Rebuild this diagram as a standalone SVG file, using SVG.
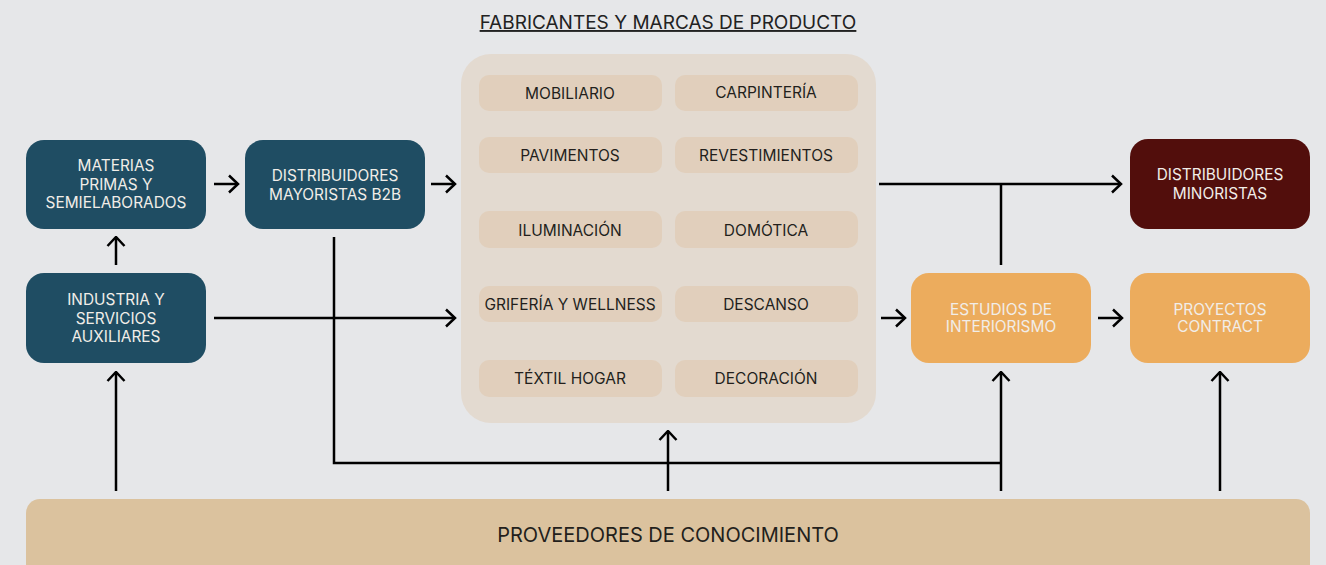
<svg xmlns="http://www.w3.org/2000/svg" width="1326" height="565" viewBox="0 0 1326 565">
<defs>
<style>
text{font-family:Inter,"Liberation Sans",sans-serif;text-anchor:middle}
.lt{fill:#f1ede8;font-size:15.4px}
.dk{fill:#231f1c;font-size:15.5px}
.cell{fill:#e1cfbc}
.blue{fill:#1f4d63}
.orange{fill:#ecac5d}
.conn path{fill:none;stroke:#000;stroke-width:2.5}
</style>
<marker id="ah" viewBox="0 0 12 20" refX="10.5" refY="10" markerWidth="12" markerHeight="20" markerUnits="userSpaceOnUse" orient="auto">
<path d="M1.5,1.5 L10.5,10 L1.5,18.5" fill="none" stroke="#000" stroke-width="2.5"/>
</marker>
</defs>
<rect width="1326" height="565" fill="#e6e7e9"/>
<g id="title">
<text x="668" y="29" style="font-size:19px;fill:#222;text-decoration:underline">FABRICANTES Y MARCAS DE PRODUCTO</text>
</g>
<g id="fabricantes">
<rect x="461" y="54" width="415" height="369" rx="30" fill="#e3dad0"/>
<rect class="cell" x="479" y="75" width="183" height="36" rx="10"/><text class="dk" x="570" y="99">MOBILIARIO</text>
<rect class="cell" x="675" y="75" width="183" height="36" rx="10"/><text class="dk" x="766" y="98">CARPINTERÍA</text>
<rect class="cell" x="479" y="137" width="183" height="36" rx="10"/><text class="dk" x="570" y="161">PAVIMENTOS</text>
<rect class="cell" x="675" y="137" width="183" height="36" rx="10"/><text class="dk" x="766" y="161">REVESTIMIENTOS</text>
<rect class="cell" x="479" y="211" width="183" height="37" rx="10"/><text class="dk" x="570" y="236">ILUMINACIÓN</text>
<rect class="cell" x="675" y="211" width="183" height="37" rx="10"/><text class="dk" x="766" y="236">DOMÓTICA</text>
<rect class="cell" x="479" y="286" width="183" height="36" rx="10"/><text class="dk" x="570" y="310">GRIFERÍA Y WELLNESS</text>
<rect class="cell" x="675" y="286" width="183" height="36" rx="10"/><text class="dk" x="766" y="310">DESCANSO</text>
<rect class="cell" x="479" y="360" width="183" height="37" rx="10"/><text class="dk" x="570" y="384">TÉXTIL HOGAR</text>
<rect class="cell" x="675" y="360" width="183" height="37" rx="10"/><text class="dk" x="766" y="384">DECORACIÓN</text>
</g>
<g id="materias">
<rect class="blue" x="26" y="140" width="180" height="89" rx="18"/>
<text class="lt" x="116" y="171">MATERIAS</text>
<text class="lt" x="116" y="189.5">PRIMAS Y</text>
<text class="lt" x="116" y="208">SEMIELABORADOS</text>
</g>
<g id="mayoristas">
<rect class="blue" x="245" y="140" width="180" height="89" rx="18"/>
<text class="lt" x="335" y="180.5">DISTRIBUIDORES</text>
<text class="lt" x="335" y="199.5">MAYORISTAS B2B</text>
</g>
<g id="industria">
<rect class="blue" x="26" y="273" width="180" height="90" rx="18"/>
<text class="lt" x="116" y="304.5">INDUSTRIA Y</text>
<text class="lt" x="116" y="323.5">SERVICIOS</text>
<text class="lt" x="116" y="341.5">AUXILIARES</text>
</g>
<g id="minoristas">
<rect x="1130" y="139" width="180" height="90" rx="18" fill="#520e0c"/>
<text class="lt" x="1220" y="179.5">DISTRIBUIDORES</text>
<text class="lt" x="1220" y="198.5">MINORISTAS</text>
</g>
<g id="estudios">
<rect class="orange" x="911" y="273" width="180" height="90" rx="18"/>
<text class="lt" x="1001" y="314.5">ESTUDIOS DE</text>
<text class="lt" x="1001" y="331.5">INTERIORISMO</text>
</g>
<g id="proyectos">
<rect class="orange" x="1130" y="273" width="180" height="90" rx="18"/>
<text class="lt" x="1220" y="314.5">PROYECTOS</text>
<text class="lt" x="1220" y="331.5">CONTRACT</text>
</g>
<g id="conocimiento">
<rect x="26" y="499" width="1284" height="90" rx="14" fill="#dbc29e"/>
<text x="668" y="542" style="font-size:20px;fill:#231f1c">PROVEEDORES DE CONOCIMIENTO</text>
</g>
<g class="conn" id="connectors">
<path d="M214,184 H238" marker-end="url(#ah)"/>
<path d="M431,184 H455" marker-end="url(#ah)"/>
<path d="M116,265 V237" marker-end="url(#ah)"/>
<path d="M214,318 H455" marker-end="url(#ah)"/>
<path d="M334,237 V463 H1001"/>
<path d="M879,184 H1121" marker-end="url(#ah)"/>
<path d="M1001,184 V265"/>
<path d="M881,318 H905" marker-end="url(#ah)"/>
<path d="M1098,318 H1122" marker-end="url(#ah)"/>
<path d="M116,491 V372" marker-end="url(#ah)"/>
<path d="M668,491 V431" marker-end="url(#ah)"/>
<path d="M1001,491 V372" marker-end="url(#ah)"/>
<path d="M1220,491 V372" marker-end="url(#ah)"/>
</g>
</svg>
